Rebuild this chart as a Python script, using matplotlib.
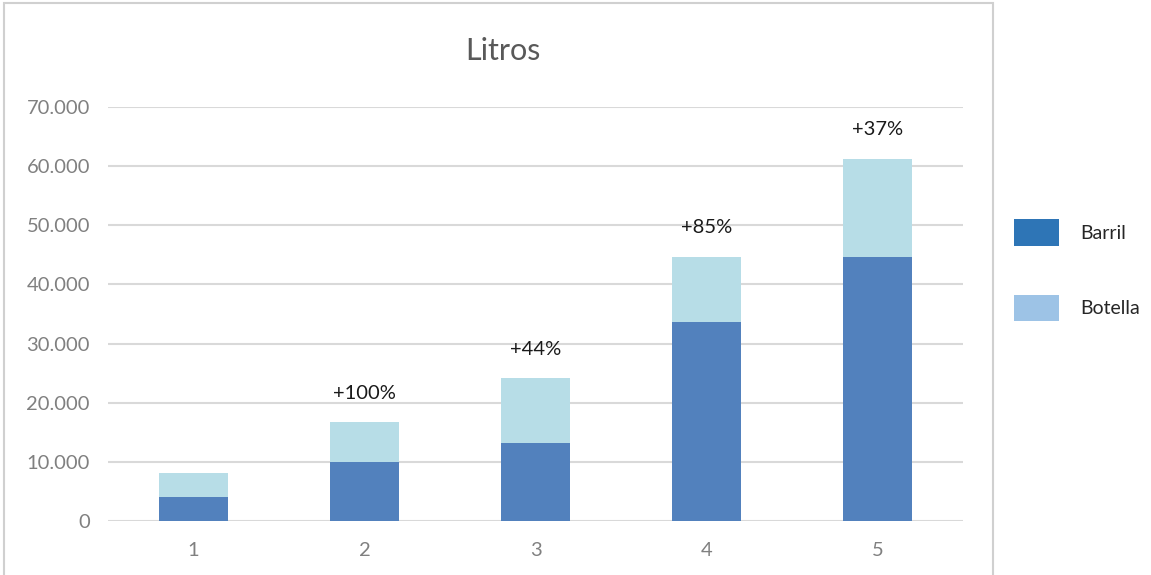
import matplotlib.pyplot as plt
from matplotlib.patches import Patch, Rectangle
from matplotlib.ticker import FuncFormatter

plt.rcParams['font.family'] = ['Lato', 'DejaVu Sans']

# datos
categorias = ["1", "2", "3", "4", "5"]
barril = [4000, 9900, 13200, 33700, 44700]
botella = [4200, 6800, 10900, 11000, 16500]
crecimiento = ["", "+100%", "+44%", "+85%", "+37%"]

color_barril = "#5281BD"
color_botella = "#B7DDE7"

fig = plt.figure(figsize=(11.51, 5.75), dpi=100)
ax = fig.add_axes([0.0938, 0.0939, 0.7429, 0.72])

x = list(range(len(categorias)))
ax.bar(x, barril, width=0.4, color=color_barril, zorder=3)
ax.bar(x, botella, width=0.4, bottom=barril, color=color_botella, zorder=3)

totales = [a + b for a, b in zip(barril, botella)]
for xi, tot, txt in zip(x, totales, crecimiento):
    if txt:
        ax.annotate(txt, (xi, tot), xytext=(0, 21), textcoords="offset points",
                    ha="center", va="center", fontsize=14.5, color="#1a1a1a")

ax.set_xlim(-0.5, 4.5)
ax.set_ylim(0, 70000)
ax.set_yticks(range(0, 70001, 10000))
ax.yaxis.set_major_formatter(FuncFormatter(lambda v, p: f"{int(v):,}".replace(",", ".")))
ax.set_xticks(x)
ax.set_xticklabels(categorias)
ax.tick_params(axis="both", length=0, labelsize=14.5, colors="#808080")
ax.tick_params(axis="y", pad=13)
ax.tick_params(axis="x", pad=15)
ax.grid(axis="y", color="#d9d9d9", linewidth=1.5, zorder=0)
for s in ax.spines.values():
    s.set_visible(False)

fig.text(0.437, 0.912, "Litros", ha="center", va="center", fontsize=22,
         color="#595959")

# marco del gráfico
fig.add_artist(Rectangle((0.0035, -0.01), 0.859, 1.005, transform=fig.transFigure,
                         fill=False, edgecolor="#d0d0d0", linewidth=1.5))

handles = [Patch(facecolor="#2E75B6", label="Barril"),
           Patch(facecolor="#9DC3E6", label="Botella")]
fig.legend(handles=handles, loc="center left", bbox_to_anchor=(0.866, 0.53),
           frameon=False, fontsize=14, handlelength=2.3, handleheight=1.75,
           labelspacing=2.5, handletextpad=1.1, labelcolor="#262626")

fig.savefig("out.png", dpi=100)
